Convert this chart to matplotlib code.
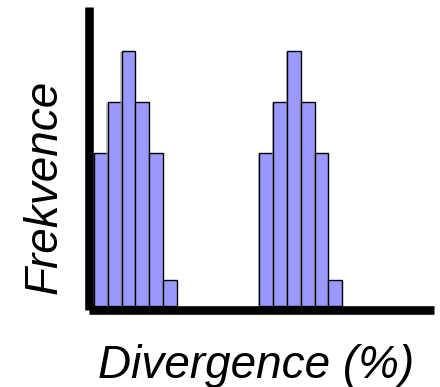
import matplotlib
matplotlib.use("Agg")
import matplotlib.pyplot as plt
import matplotlib.patheffects as pe

# two peaks of a divergence histogram (bin centres, counts)
bins_a = [0.5, 1.5, 2.5, 3.5, 4.5, 5.5]
counts_a = [3, 4, 5, 4, 3, 0.5]
bins_b = [12.5, 13.5, 14.5, 15.5, 16.5, 17.5]
counts_b = [3, 4, 5, 4, 3, 0.5]

x_label = "Divergence (%)"
y_label = "Frekvence"

W, H = 440, 387
fig = plt.figure(figsize=(W / 100, H / 100), dpi=100)

# axes frame placed so the thick spines sit where they do in the picture
ax = fig.add_axes([88.5 / W, (H - 310) / H, (434 - 88.5) / W, (310 - 7) / H])

shadow = [pe.SimplePatchShadow(offset=(-1, -1), shadow_rgbFace="#9a9a9a", alpha=0.6), pe.Normal()]
for bins, counts in [(bins_a, counts_a), (bins_b, counts_b)]:
    ax.bar(bins, counts, width=1.0, color="#9999ff", edgecolor="black",
           linewidth=1.0, path_effects=shadow)

ax.set_xlim(-0.4, 24.67)
ax.set_ylim(-0.08, 5.86)
ax.set_xticks([])
ax.set_yticks([])
for side in ["top", "right"]:
    ax.spines[side].set_visible(False)
for side in ["left", "bottom"]:
    ax.spines[side].set_linewidth(6.2)
    ax.spines[side].set_color("black")
    ax.spines[side].set_capstyle("butt")
    ax.spines[side].set_zorder(3)

fig.text(256 / W, (H - 378) / H, x_label, ha="center", va="baseline",
         fontsize=33, style="italic", family="Liberation Sans")
fig.text(45 / W, (H - 187) / H, y_label, ha="center", va="center", rotation=90,
         fontsize=33, style="italic", family="Liberation Sans")

fig.savefig("out.png", dpi=100)
